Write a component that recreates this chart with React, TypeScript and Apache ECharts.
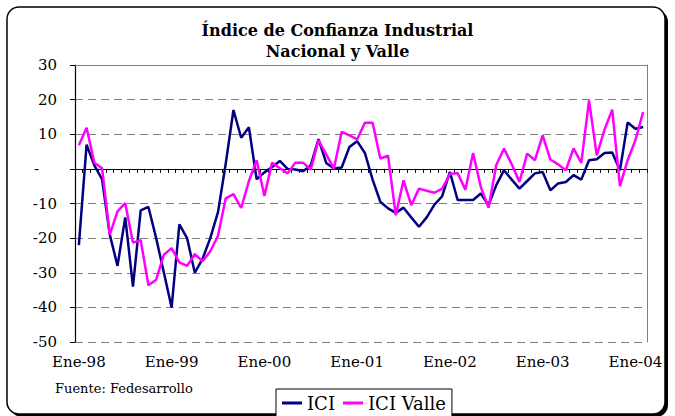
import React, { useEffect, useRef } from "react";
import * as echarts from "echarts";

const MONTHS = ["Ene", "Feb", "Mar", "Abr", "May", "Jun", "Jul", "Ago", "Sep", "Oct", "Nov", "Dic"];
const YEARS = ["98", "99", "00", "01", "02", "03", "04"];
const categories: string[] = [];
YEARS.forEach((y) => MONTHS.forEach((m) => categories.push(`${m}-${y}`)));
categories.length = 74; // Ene-98 .. Feb-04

const ici = [
  -22, 7, 1, -3, -19, -28, -14, -34, -12, -11,
  -20, -30, -40, -16, -20, -30, -26, -20, -12.5, 1.5,
  17, 9, 12, -3, -1, 0.5, 2.3, 0, -0.2, -0.7,
  1, 8.6, 1.7, 0.1, 0.4, 6.3, 8, 4.6, -3.1, -9.5,
  -11.4, -12.7, -11.2, -14, -16.7, -14, -10.3, -7.9, -0.9, -9,
  -9, -9, -7.1, -10.5, -4.7, -0.4, -3.1, -5.7, -3.5, -1.3,
  -0.9, -6.2, -4.2, -3.8, -1.8, -3.1, 2.5, 2.8, 4.6, 4.7,
  -0.4, 13.4, 11.6, 12.1,
];

const iciValle = [
  6.8, 11.9, 1.8, 0.2, -19, -12.3, -9.9, -21.3, -20.6, -33.6,
  -32, -24.8, -22.9, -27, -28, -24.6, -26.7, -23.8, -19.3, -8.5,
  -7.3, -11.3, -3.5, 2.5, -7.8, 1.8, 0.2, -1.3, 1.8, 1.8,
  -0.2, 8.3, 4.2, 0.1, 10.7, 9.7, 8.5, 13.3, 13.3, 3,
  3.8, -13.4, -3.3, -10.5, -5.7, -6.3, -6.9, -5.7, -1.5, -1.2,
  -6, 4.6, -5.2, -11.2, 1.1, 5.9, 1.3, -3.8, 4.4, 2.5,
  9.7, 2.7, 1.3, -0.4, 5.9, 1.7, 19.8, 3.9, 11.3, 17.1,
  -5, 2.5, 8.3, 16.4,
];

const Y_MIN = -50;
const Y_MAX = 30;
const Y_STEP = 10;

const TITLE = "Índice de Confianza Industrial\nNacional y Valle";
const SOURCE = "Fuente: Fedesarrollo";
const SERIES_NAMES = ["ICI", "ICI Valle"];
const COLORS = ["#000080", "#FF00FF"];

const FONT = "DejaVu Serif";

export default function App() {
  const ref = useRef<HTMLDivElement>(null);

  useEffect(() => {
    if (!ref.current) return;
    const chart = echarts.init(ref.current, null, { renderer: "svg" });

    const grid = { left: 75, right: 28, top: 65, bottom: 74 };

    const option: any = {
      animation: false,
      backgroundColor: "transparent",
      graphic: {
        elements: [
          {
            type: "rect",
            z: -20,
            shape: { x: 10, y: 10, width: 658, height: 407, r: 12 },
            style: { fill: "#000" },
          },
          {
            type: "rect",
            z: -19,
            shape: { x: 7, y: 7, width: 658, height: 407, r: 12 },
            style: { fill: "#fff", stroke: "#000", lineWidth: 1.5 },
          },
          {
            type: "text",
            z: 5,
            left: 55,
            top: 382,
            style: {
              text: SOURCE,
              fontFamily: FONT,
              fontSize: 13,
              fill: "#000",
            },
          },
        ],
      },
      title: {
        text: TITLE,
        left: "center",
        top: 20,
        padding: 0,
        textStyle: {
          fontFamily: FONT,
          fontWeight: "bold",
          fontSize: 16,
          lineHeight: 21,
          color: "#000",
        },
      },
      legend: {
        data: SERIES_NAMES,
        left: 276,
        top: 389,
        padding: [5, 6, 12, 6],
        itemGap: 8,
        itemWidth: 20,
        itemHeight: 3,
        icon: "rect",
        borderColor: "#000",
        borderWidth: 1,
        backgroundColor: "#fff",
        textStyle: { fontFamily: FONT, fontSize: 18, color: "#000" },
      },
      grid,
      xAxis: [
        {
          type: "category",
          data: categories,
          boundaryGap: true,
          position: "bottom",
          axisLine: { show: false, onZero: false },
          axisTick: { show: false },
          splitLine: { show: false },
          axisLabel: {
            interval: (idx: number) => idx % 12 === 0,
            margin: 12,
            fontFamily: FONT,
            fontSize: 15,
            color: "#000",
          },
        },
        {
          type: "category",
          data: categories,
          boundaryGap: true,
          position: "bottom",
          axisLine: { show: true, onZero: true, lineStyle: { color: "#000", width: 1.2 } },
          axisTick: { show: true, interval: 0, length: 4, lineStyle: { color: "#000", width: 1 } },
          axisLabel: { show: false },
          splitLine: { show: false },
        },
        {
          type: "category",
          data: categories,
          boundaryGap: true,
          position: "top",
          axisLine: { show: true, onZero: false, lineStyle: { color: "#808080", width: 1 } },
          axisTick: { show: false },
          axisLabel: { show: false },
          splitLine: { show: false },
        },
      ],
      yAxis: [
        {
          type: "value",
          min: Y_MIN,
          max: Y_MAX,
          interval: Y_STEP,
          position: "left",
          axisLine: { show: true, onZero: false, lineStyle: { color: "#000", width: 1.2 } },
          axisTick: { show: true, length: 5, lineStyle: { color: "#000" } },
          splitLine: {
            show: true,
            lineStyle: { color: "#808080", type: [8, 5], width: 1 },
          },
          axisLabel: {
            margin: 18,
            fontFamily: FONT,
            fontSize: 15,
            color: "#000",
            formatter: (v: number) => (v === 0 ? "{z|-}" : String(v)),
            rich: {
              z: { fontFamily: FONT, fontSize: 15, color: "#000", padding: [0, 18, 0, 0] },
            },
          },
        },
        {
          type: "value",
          min: Y_MIN,
          max: Y_MAX,
          interval: Y_STEP,
          position: "right",
          axisLine: { show: true, onZero: false, lineStyle: { color: "#808080", width: 1 } },
          axisTick: { show: false },
          axisLabel: { show: false },
          splitLine: { show: false },
        },
      ],
      series: [
        {
          name: SERIES_NAMES[0],
          type: "line",
          xAxisIndex: 0,
          yAxisIndex: 0,
          data: ici,
          symbol: "none",
          lineStyle: { color: COLORS[0], width: 2.5 },
          itemStyle: { color: COLORS[0] },
          z: 3,
        },
        {
          name: SERIES_NAMES[1],
          type: "line",
          xAxisIndex: 0,
          yAxisIndex: 0,
          data: iciValle,
          symbol: "none",
          lineStyle: { color: COLORS[1], width: 2.5 },
          itemStyle: { color: COLORS[1] },
          z: 4,
        },
      ],
    };

    chart.setOption(option);
    return () => chart.dispose();
  }, []);

  return (
    <div
      ref={ref}
      style={{ position: "fixed", left: 0, top: 0, width: 675, height: 416, background: "#fff" }}
    />
  );
}
